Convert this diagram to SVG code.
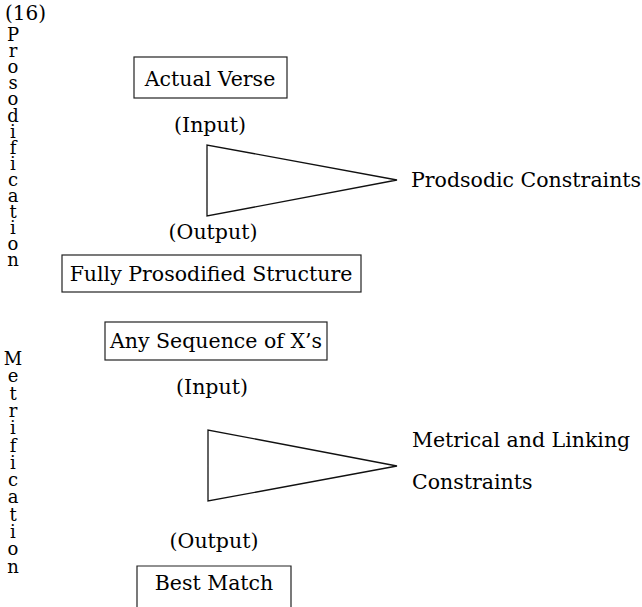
<svg xmlns="http://www.w3.org/2000/svg" width="642" height="607" viewBox="0 0 642 607">
<style>
text{font-family:"DejaVu Serif","Liberation Serif",serif;font-size:20.5px;fill:#000}
.c{text-anchor:middle}
.v{font-size:18px;text-anchor:middle}
.box{fill:none;stroke:#222;stroke-width:1.2}
.tri{fill:none;stroke:#111;stroke-width:1.3;stroke-linejoin:miter}
</style>
<rect width="642" height="607" fill="#fff"/>
<g id="label-16"><text x="5" y="20" style="font-size:20px">(16)</text></g>
<g id="label-prosodification">
<text class="v" x="13" y="41">P<tspan x="13" dy="16.1">r</tspan><tspan x="13" dy="16.1">o</tspan><tspan x="13" dy="16.1">s</tspan><tspan x="13" dy="16.1">o</tspan><tspan x="13" dy="16.1">d</tspan><tspan x="13" dy="16.1">i</tspan><tspan x="13" dy="16.1">f</tspan><tspan x="13" dy="16.1">i</tspan><tspan x="13" dy="16.1">c</tspan><tspan x="13" dy="16.1">a</tspan><tspan x="13" dy="16.1">t</tspan><tspan x="13" dy="16.1">i</tspan><tspan x="13" dy="16.1">o</tspan><tspan x="13" dy="16.1">n</tspan></text>
</g>
<g id="label-metrification">
<text class="v" x="13" y="365">M<tspan x="13" dy="17.3">e</tspan><tspan x="13" dy="17.3">t</tspan><tspan x="13" dy="17.3">r</tspan><tspan x="13" dy="17.3">i</tspan><tspan x="13" dy="17.3">f</tspan><tspan x="13" dy="17.3">i</tspan><tspan x="13" dy="17.3">c</tspan><tspan x="13" dy="17.3">a</tspan><tspan x="13" dy="17.3">t</tspan><tspan x="13" dy="17.3">i</tspan><tspan x="13" dy="17.3">o</tspan><tspan x="13" dy="17.3">n</tspan></text>
</g>
<g id="node-actual-verse">
<rect class="box" x="134" y="57" width="153" height="41"/>
<text class="c" x="210" y="86">Actual Verse</text>
</g>
<g id="label-input-1"><text class="c" x="210" y="132">(Input)</text></g>
<g id="node-prosodic-evaluator">
<polygon class="tri" points="207,145 207,216 397,180"/>
</g>
<g id="label-prosodic-constraints"><text x="411" y="187">Prodsodic Constraints</text></g>
<g id="label-output-1"><text class="c" x="213" y="239">(Output)</text></g>
<g id="node-fully-prosodified">
<rect class="box" x="62" y="255" width="299" height="37"/>
<text class="c" x="211" y="281">Fully Prosodified Structure</text>
</g>
<g id="node-any-sequence">
<rect class="box" x="105" y="322" width="222" height="38"/>
<text class="c" x="216" y="348">Any Sequence of X’s</text>
</g>
<g id="label-input-2"><text class="c" x="212" y="394">(Input)</text></g>
<g id="node-metrical-evaluator">
<polygon class="tri" points="208,430 208,501 397,466"/>
</g>
<g id="label-metrical-constraints">
<text x="412" y="447">Metrical and Linking</text>
<text x="412" y="489">Constraints</text>
</g>
<g id="label-output-2"><text class="c" x="214" y="548">(Output)</text></g>
<g id="node-best-match">
<path class="box" d="M137,607 V566 H291 V607"/>
<text class="c" x="214" y="590">Best Match</text>
</g>
<g id="connectors"></g>
</svg>
